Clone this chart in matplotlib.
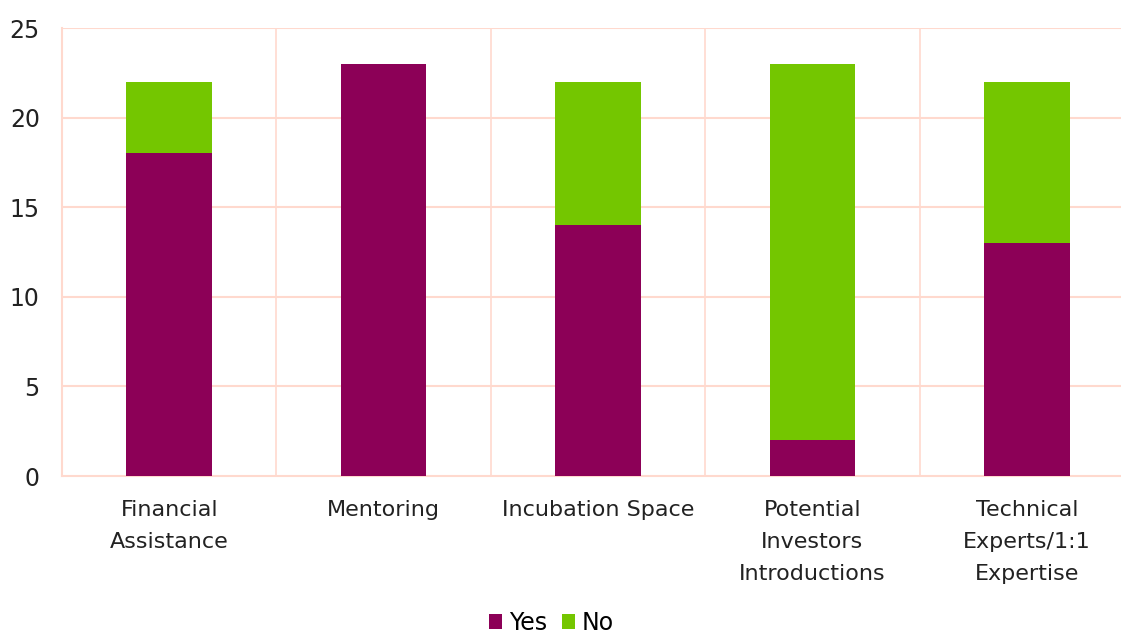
import numpy as np
import matplotlib
matplotlib.use("Agg")
import matplotlib.pyplot as plt

categories = ["Financial\nAssistance", "Mentoring", "Incubation Space",
              "Potential\nInvestors\nIntroductions", "Technical\nExperts/1:1\nExpertise"]
yes = [18, 23, 14, 2, 13]
no = [4, 0, 8, 21, 9]

purple = "#8C0057"
green = "#74C600"
grid = "#FFD9CE"

plt.rcParams["font.family"] = ["DejaVu Sans"]

fig = plt.figure(figsize=(11.21, 6.33), dpi=100)
ax = fig.add_axes([62 / 1121, 157 / 633, 1072 / 1121, 448 / 633])

x = np.arange(len(categories))
ax.bar(x, yes, width=0.4, color=purple, label="Yes", zorder=3)
ax.bar(x, no, width=0.4, bottom=yes, color=green, label="No", zorder=3)

ax.set_xlim(-0.5, len(categories) - 0.5)
ax.set_ylim(0, 25)
ax.set_yticks(range(0, 26, 5))
ax.set_xticks(x)
ax.set_xticklabels([])
ax.tick_params(axis="y", length=0, pad=16, labelsize=17, colors="#222222")
ax.tick_params(axis="x", length=0)

# category names drawn by hand so the multi-line spacing can be opened up
for xi, name in zip(x, categories):
    ax.annotate(name, xy=(xi, 0), xycoords=("data", "axes fraction"),
                xytext=(0, -17), textcoords="offset points",
                ha="center", va="top", fontsize=16, color="#222222",
                linespacing=1.75, multialignment="center")

# horizontal grid plus separators between the categories
for yv in range(5, 26, 5):
    ax.axhline(yv, color=grid, lw=1.5, zorder=1)
for xv in np.arange(0.5, len(categories), 1.0):
    ax.axvline(xv, color=grid, lw=1.2, zorder=1)

for side in ["top", "right"]:
    ax.spines[side].set_visible(False)
for side in ["left", "bottom"]:
    ax.spines[side].set_color(grid)
    ax.spines[side].set_linewidth(1.5)

ax.legend(loc="lower center", bbox_to_anchor=(0.492, -0.018), bbox_transform=fig.transFigure,
          ncol=2, frameon=False, fontsize=17, handlelength=0.55, handleheight=0.55,
          handletextpad=0.3, columnspacing=0.6, borderaxespad=0.0)

fig.savefig("out.png", dpi=100)
